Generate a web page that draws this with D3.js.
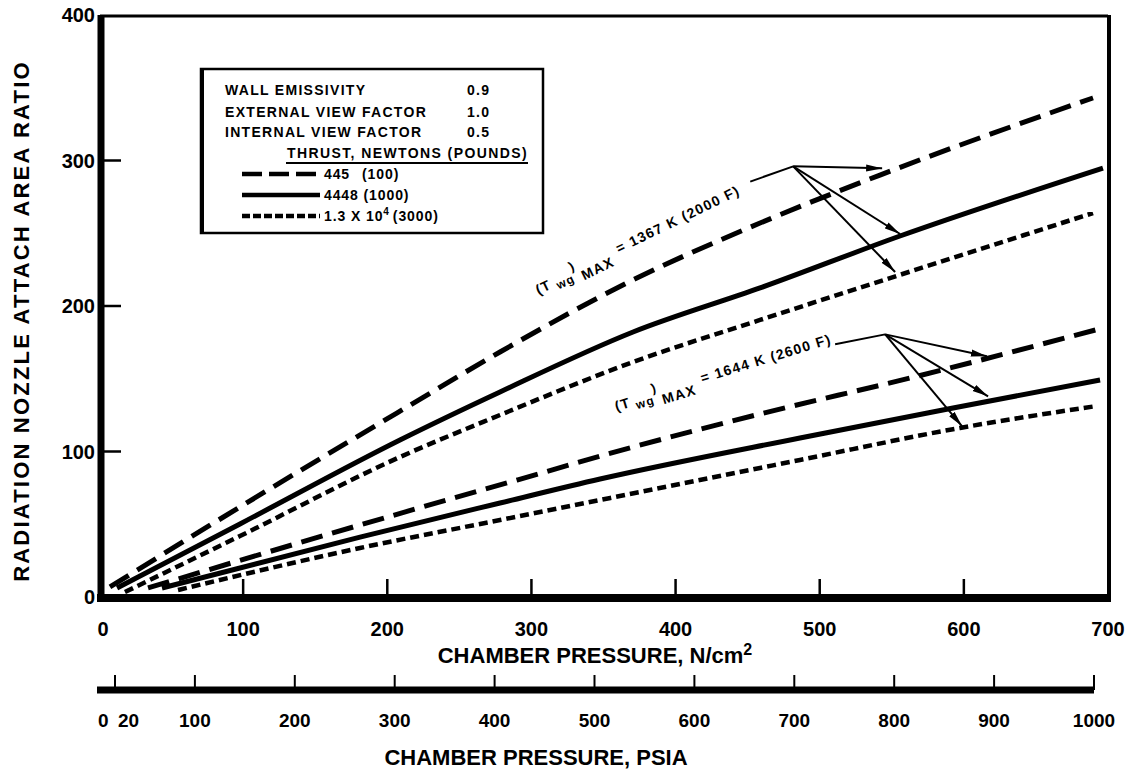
<!DOCTYPE html>
<html>
<head>
<meta charset="utf-8">
<script src="https://cdn.jsdelivr.net/npm/d3@7/dist/d3.min.js"></script>
<style>
  html, body { margin: 0; padding: 0; background: #fff; }
  svg { display: block; }
  text { font-family: "Liberation Sans", Arial, Helvetica, sans-serif; font-weight: bold; fill: #000; }
</style>
</head>
<body>
<svg id="chart" width="1136" height="769"></svg>
<script>
// ---------------- DATA ----------------
// x: chamber pressure (N/cm^2), y: radiation nozzle attach area ratio
const seriesNames = ["445 (100)", "4448 (1000)", "1.3 X 10^4 (3000)"];
const seriesStyles = ["longdash", "solid", "shortdash"];

// (Twg)MAX = 1367 K (2000 F)
const t1367_445 = [[7.6,6.9],[97.8,61.9],[213.7,130.6],[278.2,168.4],[370.5,217.9],[458.6,257.0],[541.8,290.0],[689.6,343.0]];
const t1367_4448 = [[12.5,6.2],[97.8,50.2],[208.8,107.9],[278.2,140.9],[370.5,182.1],[458.6,212.4],[555.7,248.1],[696.5,294.8]];
const t1367_13000 = [[18.0,3.4],[97.8,41.9],[208.8,96.2],[278.2,125.1],[370.5,161.5],[458.6,190.4],[550.9,219.9],[689.6,263.9]];

// (Twg)MAX = 1644 K (2600 F)
const t1644_445 = [[34.0,6.2],[181.1,49.5],[290.0,80.4],[370.5,103.1],[458.6,125.8],[562.6,150.5],[696.5,184.9]];
const t1644_4448 = [[43.7,6.2],[181.1,41.2],[278.2,64.6],[347.6,81.1],[486.3,109.3],[592.5,129.9],[694.5,149.1]];
const t1644_13000 = [[54.8,4.8],[181.1,33.7],[278.2,52.9],[486.3,94.2],[597.3,116.2],[692.4,131.3]];

const xTicksN = [0,100,200,300,400,500,600,700];
const yTicks = [0,100,200,300,400];
const psiaTicks = [20,100,200,300,400,500,600,700,800,900,1000];
const psiaLabels = [0,20,100,200,300,400,500,600,700,800,900,1000];

const legendParams = [["WALL EMISSIVITY","0.9"],["EXTERNAL VIEW FACTOR","1.0"],["INTERNAL VIEW FACTOR","0.5"]];

// annotation anchors (data units)
const annot1 = {text:"1367 K (2000 F)", at:[304.9,207.6], leader:[[451.8,285.5],[481.6,296.0]], tips:[[543.3,294.6],[555.8,249.5],[552.3,223.4]]};
const annot2 = {text:"1644 K (2600 F)", at:[359.0,127.6], leader:[[510.7,173.7],[545.4,180.5]], tips:[[616.0,165.4],[616.8,137.9],[598.8,117.3]]};

// ---------------- CHART ----------------
const svg = d3.select("#chart");
const x = d3.scaleLinear().domain([0,700]).range([99,1108]);
const y = d3.scaleLinear().domain([0,400]).range([597,15]);
const xp = d3.scaleLinear().domain([0,1000]).range([95,1094]);

const dashes = {longdash:"22,10", solid:null, shortdash:"9,5"};
const widths = {longdash:5, solid:5, shortdash:4.5};

// arrow marker
const defs = svg.append("defs");
defs.append("marker").attr("id","arr").attr("markerUnits","userSpaceOnUse")
  .attr("viewBox","0 0 16 8").attr("refX",16).attr("refY",4)
  .attr("markerWidth",16).attr("markerHeight",8).attr("orient","auto")
  .append("path").attr("d","M0,0.5 L16,4 L0,7.5 Z").attr("fill","#000");

// frame
const g = svg.append("g");
g.append("line").attr("x1",x(0)+1).attr("x2",x(700)).attr("y1",y(400)+1).attr("y2",y(400)+1).attr("stroke","#000").attr("stroke-width",3);
g.append("line").attr("x1",x(700)+1).attr("x2",x(700)+1).attr("y1",y(400)).attr("y2",y(0)+4).attr("stroke","#000").attr("stroke-width",4);
g.append("line").attr("x1",x(0)+2).attr("x2",x(0)+2).attr("y1",y(400)).attr("y2",y(0)+5).attr("stroke","#000").attr("stroke-width",7);
g.append("line").attr("x1",x(0)-2).attr("x2",x(700)+3).attr("y1",y(0)+1).attr("y2",y(0)+1).attr("stroke","#000").attr("stroke-width",8);

// x ticks (inward)
g.selectAll(".xt").data(xTicksN.filter(d=>d>0&&d<700)).enter().append("line")
  .attr("x1",d=>x(d)).attr("x2",d=>x(d)).attr("y1",y(0)-3).attr("y2",y(0)-18)
  .attr("stroke","#000").attr("stroke-width",2.5);
// y ticks (inward)
g.selectAll(".yt").data(yTicks.filter(d=>d>0&&d<400)).enter().append("line")
  .attr("x1",x(0)+5).attr("x2",x(0)+22).attr("y1",d=>y(d)).attr("y2",d=>y(d))
  .attr("stroke","#000").attr("stroke-width",2.5);

// tick labels
g.selectAll(".xl").data(xTicksN).enter().append("text")
  .attr("x",d=>x(d)+(d===0?4:0)).attr("y",636).attr("text-anchor","middle")
  .style("font-size","20px").text(d=>d);
g.selectAll(".yl").data(yTicks).enter().append("text")
  .attr("x",95).attr("y",d=>y(d)).attr("dy","0.36em").attr("text-anchor","end")
  .style("font-size","20px").text(d=>d);

// axis titles
const xt = g.append("text").attr("x",595).attr("y",663).attr("text-anchor","middle").style("font-size","22px");
xt.append("tspan").text("CHAMBER PRESSURE, N/cm");
xt.append("tspan").attr("dy","-8").style("font-size","16px").text("2");
g.append("text").attr("transform","translate(29,321) rotate(-90)").attr("text-anchor","middle")
  .style("font-size","22px").style("letter-spacing","2.2px").text("RADIATION NOZZLE ATTACH AREA RATIO");

// PSIA axis
const py = 690;
g.append("line").attr("x1",xp(0)+2).attr("x2",xp(1000)).attr("y1",py).attr("y2",py).attr("stroke","#000").attr("stroke-width",7);
g.selectAll(".pt").data(psiaTicks).enter().append("line")
  .attr("x1",d=>xp(d)).attr("x2",d=>xp(d)).attr("y1",py).attr("y2",py-15)
  .attr("stroke","#000").attr("stroke-width",2);
g.selectAll(".pl").data(psiaLabels).enter().append("text")
  .attr("x",d=>d===0?xp(0)+3:(d===20?xp(20)+3:xp(d)))
  .attr("text-anchor",d=>d<=20?"start":"middle")
  .attr("y",727).style("font-size","19px").text(d=>d);
g.append("text").attr("x",536).attr("y",765).attr("text-anchor","middle").style("font-size","22px").text("CHAMBER PRESSURE, PSIA");

// curves
const line = d3.line().x(d=>x(d[0])).y(d=>y(d[1])).curve(d3.curveMonotoneX);
const curves = [
  [t1367_445,0],[t1367_4448,1],[t1367_13000,2],
  [t1644_445,0],[t1644_4448,1],[t1644_13000,2]
];
g.selectAll(".curve").data(curves).enter().append("path")
  .attr("d",d=>line(d[0])).attr("fill","none").attr("stroke","#000")
  .attr("stroke-width",d=>widths[seriesStyles[d[1]]])
  .attr("stroke-dasharray",d=>dashes[seriesStyles[d[1]]]);

// annotations
function annotate(a, angle){
  const [ax,ay] = [x(a.at[0]), y(a.at[1])];
  const t = g.append("text").attr("transform",`translate(${ax},${ay}) rotate(${angle})`)
    .style("font-size","14px").style("letter-spacing","1.3px");
  t.append("tspan").text("(T");
  t.append("tspan").attr("dy","4").style("font-size","12px").text(" wg");
  t.append("tspan").attr("dy","-11").style("font-size","13px").text(")");
  t.append("tspan").attr("dy","14").attr("dx","2").text("MAX");
  t.append("tspan").attr("dy","-9").attr("dx","8").text("= " + a.text);
  g.append("line").attr("x1",x(a.leader[0][0])).attr("y1",y(a.leader[0][1]))
    .attr("x2",x(a.leader[1][0])).attr("y2",y(a.leader[1][1])).attr("stroke","#000").attr("stroke-width",2);
  a.tips.forEach(tp=>{
    g.append("line").attr("x1",x(a.leader[1][0])).attr("y1",y(a.leader[1][1]))
      .attr("x2",x(tp[0])).attr("y2",y(tp[1])).attr("stroke","#000").attr("stroke-width",2)
      .attr("marker-end","url(#arr)");
  });
}
annotate(annot1, -26);
annotate(annot2, -17);

// legend box
const L = g.append("g");
L.append("rect").attr("x",201).attr("y",69).attr("width",342).attr("height",164)
  .attr("fill","#fff").attr("stroke","#000").attr("stroke-width",2.5);
L.append("line").attr("x1",202).attr("x2",202).attr("y1",68).attr("y2",234).attr("stroke","#000").attr("stroke-width",4);
const rowY = [95,117,137];
legendParams.forEach((p,i)=>{
  L.append("text").attr("x",225).attr("y",rowY[i]).style("font-size","14px").style("letter-spacing","1.3px").text(p[0]);
  L.append("text").attr("x",467).attr("y",rowY[i]).style("font-size","14px").style("letter-spacing","1.3px").text(p[1]);
});
L.append("text").attr("x",287).attr("y",158).style("font-size","14px").style("letter-spacing","1.4px").text("THRUST, NEWTONS (POUNDS)");
L.append("line").attr("x1",286).attr("x2",528).attr("y1",163).attr("y2",163).attr("stroke","#000").attr("stroke-width",2);
const legY = [174,195,216];
const legDash = {longdash:"20,7", solid:null, shortdash:"8,3"};
seriesNames.forEach((n,i)=>{
  const st = seriesStyles[i];
  L.append("line").attr("x1",242).attr("x2",320).attr("y1",legY[i]).attr("y2",legY[i])
    .attr("stroke","#000").attr("stroke-width",4.5).attr("stroke-dasharray",legDash[st]);
  const t = L.append("text").attr("x",324).attr("y",legY[i]+5).style("font-size","14px").style("letter-spacing","0.9px");
  if (i===0){ t.append("tspan").text("445"); t.append("tspan").attr("dx","12").text("(100)"); }
  else if (i===1){ t.text("4448 (1000)"); }
  else { t.append("tspan").text("1.3 X 10"); t.append("tspan").attr("dy","-6").style("font-size","10px").text("4");
         t.append("tspan").attr("dy","6").attr("dx","3").text("(3000)"); }
});
</script>
</body>
</html>
